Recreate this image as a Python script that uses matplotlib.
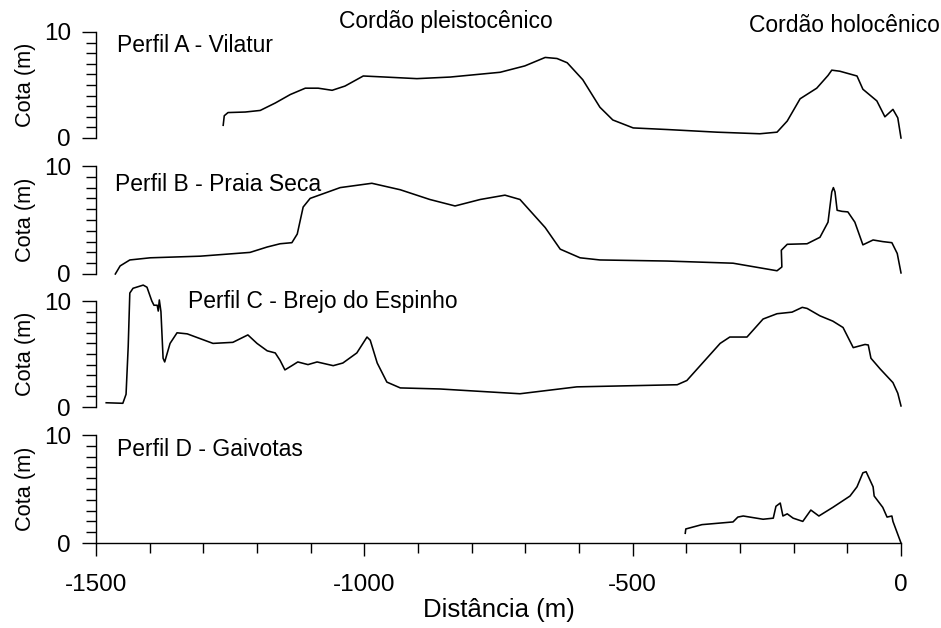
import numpy as np
import matplotlib.pyplot as plt
from matplotlib.ticker import MultipleLocator

plt.rcParams['font.family'] = ['Liberation Sans', 'DejaVu Sans']

# perfil A - Vilatur
xa = [-1263, -1261, -1254, -1222, -1194, -1166, -1138, -1110, -1086, -1060, -1036,
      -1002, -961, -902, -840, -747, -701, -663, -641, -622, -593, -561, -537, -499,
      -436, -343, -263, -231, -212, -188, -157, -136, -129, -114, -82, -71, -45, -30,
      -15, -6, 0]
ya = [1.2, 2.1, 2.4, 2.45, 2.6, 3.3, 4.1, 4.7, 4.7, 4.5, 4.9,
      5.85, 5.75, 5.6, 5.75, 6.2, 6.8, 7.6, 7.5, 7.1, 5.5, 2.9, 1.7, 0.95,
      0.8, 0.55, 0.4, 0.55, 1.6, 3.7, 4.7, 5.9, 6.4, 6.3, 5.85, 4.6, 3.5, 2.0,
      2.7, 1.9, 0.0]

# perfil B - Praia Seca
xb = [-1464, -1455, -1437, -1399, -1306, -1213, -1181, -1157, -1135, -1125, -1114,
      -1101, -1045, -986, -933, -878, -831, -784, -738, -710, -663, -635, -598, -561,
      -436, -313, -231, -222, -223, -212, -175, -151, -136, -129, -126, -123, -119,
      -110, -99, -86, -76, -71, -52, -34, -17, -7, 0]
yb = [0.0, 0.75, 1.3, 1.5, 1.65, 2.0, 2.5, 2.8, 2.9, 3.7, 6.2,
      7.0, 8.0, 8.4, 7.8, 6.9, 6.3, 6.9, 7.3, 6.9, 4.3, 2.3, 1.5, 1.3,
      1.2, 1.0, 0.3, 0.65, 2.2, 2.75, 2.8, 3.4, 4.8, 7.6, 8.0, 7.6, 5.9,
      5.8, 5.75, 4.8, 3.4, 2.7, 3.15, 3.0, 2.9, 1.9, 0.1]

# perfil C - Brejo do Espinho
xc = [-1481, -1450, -1444, -1440, -1437, -1431, -1412, -1405, -1396, -1392, -1386,
      -1384, -1382, -1379, -1375, -1372, -1362, -1349, -1330, -1282, -1245, -1217,
      -1200, -1181, -1166, -1157, -1148, -1135, -1124, -1105, -1088, -1058, -1040,
      -1014, -995, -989, -976, -958, -933, -859, -710, -604, -417, -399, -337, -319,
      -287, -257, -231, -203, -184, -175, -151, -127, -108, -89, -67, -61, -56, -39,
      -15, -6, 0]
yc = [0.4, 0.35, 1.2, 5.7, 10.75, 11.2, 11.5, 11.3, 10.0, 9.6, 9.6,
      9.05, 10.1, 9.0, 4.6, 4.25, 6.0, 7.0, 6.9, 6.0, 6.1, 6.8,
      6.0, 5.3, 5.1, 4.4, 3.5, 3.9, 4.25, 4.0, 4.25, 3.9, 4.15,
      5.1, 6.6, 6.3, 4.15, 2.35, 1.8, 1.7, 1.25, 1.9, 2.1, 2.5, 6.0, 6.6,
      6.6, 8.3, 8.8, 8.95, 9.4, 9.3, 8.6, 8.1, 7.5, 5.6, 5.9, 5.85, 4.6, 3.6,
      2.3, 1.3, 0.1]

# perfil D - Gaivotas
xd = [-402, -401, -371, -313, -304, -294, -257, -238, -233, -225, -220, -212, -201,
      -183, -168, -153, -127, -95, -82, -71, -65, -52, -50, -34, -26, -17, -15, 0]
yd = [0.9, 1.3, 1.7, 1.95, 2.4, 2.5, 2.2, 2.3, 3.4, 3.7, 2.5, 2.7, 2.3,
      2.0, 3.05, 2.5, 3.3, 4.35, 5.2, 6.5, 6.6, 5.2, 4.35, 3.3, 2.4, 2.5, 2.0, 0.0]

perfis = [(xa, ya, "Perfil A - Vilatur", -1461, 8.15),
          (xb, yb, "Perfil B - Praia Seca", -1464, 7.7),
          (xc, yc, "Perfil C - Brejo do Espinho", -1328, 9.3),
          (xd, yd, "Perfil D - Gaivotas", -1461, 8.05)]

fig = plt.figure(figsize=(9.41, 6.28), dpi=100)
W, H = 941, 628
topos = [32, 166, 301, 435]
bases = [138, 274, 407, 543]

axs = []
for i, (x, y, nome, tx, ty) in enumerate(perfis):
    ax = fig.add_axes([96 / W, (H - bases[i]) / H, 805 / W, (bases[i] - topos[i]) / H])
    ax.plot(x, y, color="black", lw=1.15, clip_on=False)
    ax.set_xlim(-1500, 0)
    ax.set_ylim(0, 10)
    for s in ["top", "right", "bottom"]:
        ax.spines[s].set_visible(False)
    ax.spines["left"].set_linewidth(1.0)
    ax.set_yticks([0, 10])
    ax.yaxis.set_minor_locator(MultipleLocator(1))
    ax.tick_params(axis="y", which="major", length=10, width=1.0, labelsize=17.5, pad=8)
    ax.tick_params(axis="y", which="minor", length=7.5, width=1.0)
    ax.set_ylabel("Cota (m)", fontsize=15.7)
    ax.yaxis.set_label_coords(-0.074, 0.5)
    ax.text(tx, ty, nome, fontsize=16.5, va="baseline")
    if i < 3:
        ax.tick_params(axis="x", which="both", bottom=False, labelbottom=False)
    axs.append(ax)

axd = axs[3]
axd.spines["bottom"].set_visible(True)
axd.spines["bottom"].set_linewidth(1.0)
axd.set_xticks([-1500, -1000, -500, 0])
axd.set_xticklabels(["-1500", "-1000", "-500", "0"])
axd.xaxis.set_minor_locator(MultipleLocator(100))
axd.tick_params(axis="x", which="major", length=9.5, width=1.0, labelsize=17.5, pad=13)
axd.tick_params(axis="x", which="minor", length=7.5, width=1.0)
axd.set_xlabel("Distância (m)", fontsize=18.5, labelpad=1)

axs[0].text(-848, 10.4, "Cordão pleistocênico", fontsize=16.5, ha="center", va="baseline")
axs[0].text(-106, 10.0, "Cordão holocênico", fontsize=16.5, ha="center", va="baseline")

fig.savefig("out.png", dpi=100)
